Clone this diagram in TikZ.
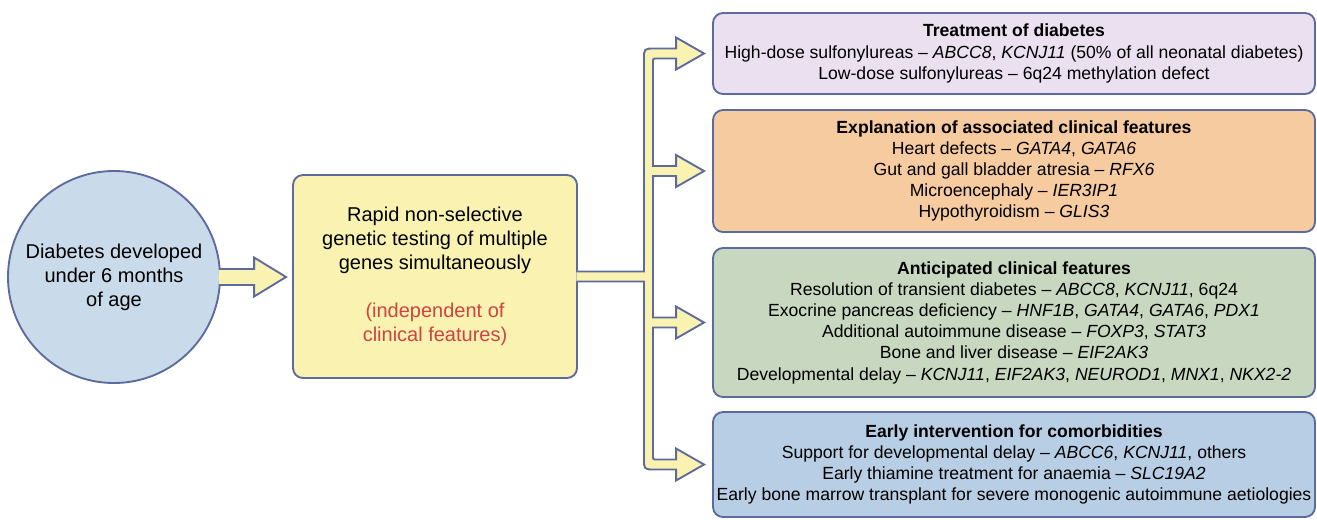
\documentclass[tikz,border=0pt]{standalone}
\usepackage{fontspec}
\setmainfont{Liberation Sans}
\usetikzlibrary{calc}
\definecolor{bd}{RGB}{92,106,158}
\definecolor{cfill}{RGB}{201,218,234}
\definecolor{yel}{RGB}{250,242,176}
\definecolor{fone}{RGB}{234,224,240}
\definecolor{ftwo}{RGB}{247,203,160}
\definecolor{fthree}{RGB}{200,216,192}
\definecolor{ffour}{RGB}{184,206,228}
\definecolor{redtxt}{RGB}{204,68,68}
\begin{document}
\begin{tikzpicture}[x=0.75pt,y=-0.75pt,
  bx/.style={draw=bd, line width=1.4pt, rounded corners=7.5pt, align=center,
    minimum width=451.5pt, inner sep=0pt, font=\fontsize{13.2}{15.9}\selectfont},
  big/.style={font=\fontsize{15}{18}\selectfont, align=center},
  fat/.style={draw=bd, fill=yel, line width=1.4pt, line join=miter},
]
\def\u{0.75pt}
\useasboundingbox (0,0) rectangle (1317,519);

\node[circle, draw=bd, fill=cfill, line width=1.4pt, minimum size=159pt, inner sep=0pt, big] (c) at (114,277)
  {Diabetes developed\\under 6 months\\of age};

\node[draw=bd, fill=yel, line width=1.4pt, rounded corners=7.5pt, minimum width=213pt, minimum height=152.25pt, big] (yb) at (435,276.5)
  {Rapid non-selective\\genetic testing of multiple\\genes simultaneously\\[18pt]
   \textcolor{redtxt}{(independent of}\\\textcolor{redtxt}{clinical features)}};

\node[bx, fill=fone, minimum height=60.75pt] (b1) at (1014,53.5)
  {\textbf{Treatment of diabetes}\\
   High-dose sulfonylureas -- \textit{ABCC8}, \textit{KCNJ11} (50\% of all neonatal diabetes)\\
   Low-dose sulfonylureas -- 6q24 methylation defect};

\node[bx, fill=ftwo, minimum height=91.5pt] (b2) at (1014,171)
  {\textbf{Explanation of associated clinical features}\\
   Heart defects -- \textit{GATA4}, \textit{GATA6}\\
   Gut and gall bladder atresia -- \textit{RFX6}\\
   Microencephaly -- \textit{IER3IP1}\\
   Hypothyroidism -- \textit{GLIS3}};

\node[bx, fill=fthree, minimum height=111.75pt] (b3) at (1014,322.5)
  {\textbf{Anticipated clinical features}\\
   Resolution of transient diabetes -- \textit{ABCC8}, \textit{KCNJ11}, 6q24\\
   Exocrine pancreas deficiency -- \textit{HNF1B}, \textit{GATA4}, \textit{GATA6}, \textit{PDX1}\\
   Additional autoimmune disease -- \textit{FOXP3}, \textit{STAT3}\\
   Bone and liver disease -- \textit{EIF2AK3}\\
   Developmental delay -- \textit{KCNJ11}, \textit{EIF2AK3}, \textit{NEUROD1}, \textit{MNX1}, \textit{NKX2-2}};

\node[bx, fill=ffour, minimum height=78.75pt] (b4) at (1014,464.5)
  {\textbf{Early intervention for comorbidities}\\
   Support for developmental delay -- \textit{ABCC6}, \textit{KCNJ11}, others\\
   Early thiamine treatment for anaemia -- \textit{SLC19A2}\\
   \makebox[0pt]{Early bone marrow transplant for severe monogenic autoimmune aetiologies}};

% arrow circle -> yellow box
\draw[fat] let \p0=(c.east), \p1=(yb.west) in
  ({\x0-2*\u},{\y0+8*\u}) -- ({\x1-38*\u},{\y0+8*\u}) -- ({\x1-38*\u},{\y0+19.5*\u})
  -- ({\x1-6*\u},{\y0}) -- ({\x1-38*\u},{\y0-19.5*\u}) -- ({\x1-38*\u},{\y0-8*\u})
  -- ({\x0-2*\u},{\y0-8*\u});

% branching arrow
\draw[fat] let \p0=(yb.east), \p1=(b1.west), \p2=(b2.west), \p3=(b3.west), \p4=(b4.west),
  \n{L}={\x0+66*\u}, \n{R}={\x0+75*\u}, \n{H}={\x1-36*\u}, \n{P}={\x1-8*\u},
  \n{w}={5*\u}, \n{hh}={16*\u}, \n{r}={11*\u}, \n{ri}={4*\u} in
  ({\x0-1.5*\u},{\y0+\n{w}}) -- (\n{L},{\y0+\n{w}})
  -- (\n{L},{\y1+\n{w}-\n{r}}) .. controls (\n{L},{\y1+\n{w}}) .. ({\n{L}+\n{r}},{\y1+\n{w}})
  -- (\n{H},{\y1+\n{w}}) -- (\n{H},{\y1+\n{hh}}) -- (\n{P},\y1) -- (\n{H},{\y1-\n{hh}}) -- (\n{H},{\y1-\n{w}})
  -- ({\n{R}+\n{ri}},{\y1-\n{w}}) .. controls (\n{R},{\y1-\n{w}}) .. (\n{R},{\y1-\n{w}-\n{ri}})
  -- (\n{R},{\y2+\n{w}}) -- (\n{H},{\y2+\n{w}}) -- (\n{H},{\y2+\n{hh}}) -- (\n{P},\y2) -- (\n{H},{\y2-\n{hh}}) -- (\n{H},{\y2-\n{w}}) -- (\n{R},{\y2-\n{w}})
  -- (\n{R},{\y3+\n{w}}) -- (\n{H},{\y3+\n{w}}) -- (\n{H},{\y3+\n{hh}}) -- (\n{P},\y3) -- (\n{H},{\y3-\n{hh}}) -- (\n{H},{\y3-\n{w}}) -- (\n{R},{\y3-\n{w}})
  -- (\n{R},{\y4+\n{w}+\n{ri}}) .. controls (\n{R},{\y4+\n{w}}) .. ({\n{R}+\n{ri}},{\y4+\n{w}})
  -- (\n{H},{\y4+\n{w}}) -- (\n{H},{\y4+\n{hh}}) -- (\n{P},\y4) -- (\n{H},{\y4-\n{hh}}) -- (\n{H},{\y4-\n{w}})
  -- ({\n{L}+\n{r}},{\y4-\n{w}}) .. controls (\n{L},{\y4-\n{w}}) .. (\n{L},{\y4-\n{w}+\n{r}})
  -- (\n{L},{\y0-\n{w}}) -- ({\x0-1.5*\u},{\y0-\n{w}});
\end{tikzpicture}
\end{document}
